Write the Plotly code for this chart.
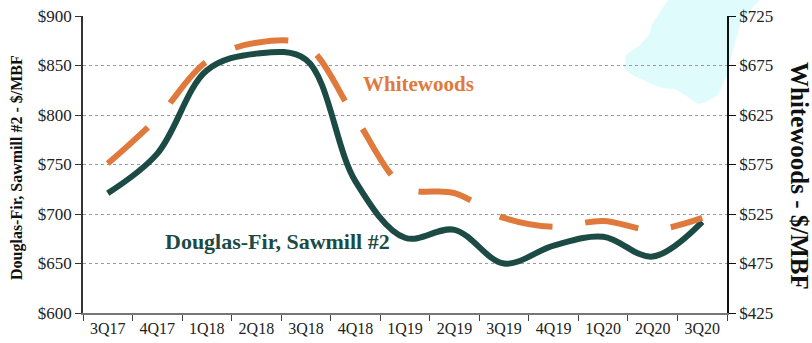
import plotly.graph_objects as go

quarters = ["3Q17", "4Q17", "1Q18", "2Q18", "3Q18", "4Q18", "1Q19",
            "2Q19", "3Q19", "4Q19", "1Q20", "2Q20", "3Q20"]
douglas_fir = [721, 761, 845, 862, 856, 733, 676, 684, 650, 668, 677, 657, 692]
whitewoods = [576, 622, 679, 698, 695, 622, 552, 546, 521, 512, 518, 509, 521]

left_ticks = [600, 650, 700, 750, 800, 850, 900]
right_ticks = [425, 475, 525, 575, 625, 675, 725]

GREEN = "#1b4b44"
ORANGE = "#e07a3c"
FONT = "Liberation Serif"

W, H = 812, 343
L, R, T, B = 83, 727, 16, 313

def px(x):
    return (x - L) / (R - L)

def py(y):
    return (B - y) / (B - T)

fig = go.Figure()
fig.add_trace(go.Scatter(x=quarters, y=douglas_fir, mode="lines",
                         line=dict(color=GREEN, width=6, shape="spline", smoothing=1),
                         yaxis="y", hoverinfo="skip"))
fig.add_trace(go.Scatter(x=quarters, y=whitewoods, mode="lines",
                         line=dict(color=ORANGE, width=6, shape="spline", smoothing=1,
                                   dash="54px,33px"),
                         yaxis="y2", hoverinfo="skip"))

# light blue decorative blob at top right
blob = [(668, 0), (660, 12), (652, 25), (649, 35), (640, 45), (626, 55), (624, 68),
        (632, 75), (650, 83), (662, 88), (675, 89), (688, 97), (698, 104), (706, 102),
        (718, 95), (727, 75), (733, 50), (740, 25), (752, 8), (760, 0)]
path = "M " + " L ".join(f"{px(a):.4f},{py(b):.4f}" for a, b in blob) + " Z"
fig.add_shape(type="path", path=path, xref="paper", yref="paper",
              fillcolor="#e0fbfb", line=dict(width=0), layer="below")

fig.add_annotation(text="<b>Douglas-Fir, Sawmill #2</b>", x=px(277), y=py(241),
                   xref="paper", yref="paper", xanchor="center", yanchor="middle",
                   showarrow=False,
                   font=dict(family=FONT, size=22, color=GREEN))
fig.add_annotation(text="<b>Whitewoods</b>", x=px(418), y=py(84),
                   xref="paper", yref="paper", xanchor="center", yanchor="middle",
                   showarrow=False,
                   font=dict(family=FONT, size=21, color=ORANGE))
fig.add_annotation(text="<b>Douglas-Fir, Sawmill #2 - $/MBF</b>", x=px(17), y=py(168),
                   xref="paper", yref="paper", xanchor="center", yanchor="middle",
                   showarrow=False, textangle=-90,
                   font=dict(family=FONT, size=16, color="#111"))
fig.add_annotation(text="<b>Whitewoods - $/MBF</b>", x=px(800), y=py(176),
                   xref="paper", yref="paper", xanchor="center", yanchor="middle",
                   showarrow=False, textangle=90,
                   font=dict(family=FONT, size=25, color="#111"))

fig.update_layout(
    width=W, height=H,
    margin=dict(l=L, r=W - R, t=T, b=H - B),
    paper_bgcolor="white", plot_bgcolor="white",
    showlegend=False,
    font=dict(family=FONT, color="#222"),
    xaxis=dict(type="category", range=[-0.5, 12.5], tickson="boundaries",
               ticks="outside", ticklen=6, tickcolor="#444", tickwidth=1,
               showline=True, linecolor="#777", linewidth=2,
               showgrid=False, tickfont=dict(size=16, family=FONT, color="#222"),
               automargin=False),
    yaxis=dict(range=[600, 900], tickvals=left_ticks,
               ticktext=[f"${v}" for v in left_ticks],
               ticks="outside", ticklen=6, tickcolor="#333",
               showline=True, linecolor="#333", linewidth=1.5,
               showgrid=True, gridcolor="#9a9a9a", gridwidth=1, griddash="dot",
               zeroline=False, tickfont=dict(size=17, family=FONT, color="#222"),
               automargin=False),
    yaxis2=dict(range=[425, 725], tickvals=right_ticks,
                ticktext=[f"${v}" for v in right_ticks],
                overlaying="y", side="right", anchor="x",
                ticks="outside", ticklen=7, tickcolor="#111",
                showline=True, linecolor="#111", linewidth=1.5,
                showgrid=False, zeroline=False,
                tickfont=dict(size=17, family=FONT, color="#222"),
                automargin=False),
)

fig.write_html("out.html")
